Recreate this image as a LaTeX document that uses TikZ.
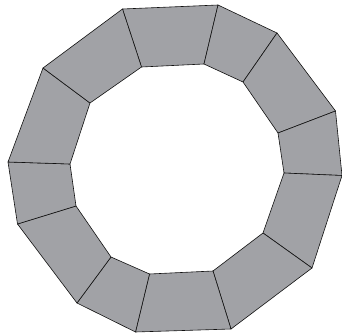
\documentclass[tikz,border=0pt]{standalone}
\usepackage{tikz}
\usetikzlibrary{calc}
\definecolor{segfill}{HTML}{A1A2A6}
\definecolor{ink}{HTML}{111111}

\begin{document}
\begin{tikzpicture}[
  x=1pt,y=-1pt,
  segment/.style={draw=ink,fill=segfill,line width=0.6pt,line join=round}
]
\useasboundingbox (0,0) rectangle (342,334);
% outer corners
\foreach \n/\p in {1/{122.5,9},2/{218,5},3/{277,33},4/{335.5,111},5/{342,175.5},6/{312,268},
                   7/{231,329},8/{135.5,332},9/{77,303},10/{17.5,224},11/{8,162},12/{43,68}}
  \coordinate (o\n) at (\p);
% inner corners
\foreach \n/\p in {1/{141.5,67},2/{204,64},3/{243,82},4/{278,133},5/{284,173},6/{263,233},
                   7/{213,271},8/{149.5,274},9/{111,257},10/{76,206},11/{70,164},12/{90,103}}
  \coordinate (i\n) at (\p);
% ring segments
\foreach \a/\b in {1/2,2/3,3/4,4/5,5/6,6/7,7/8,8/9,9/10,10/11,11/12,12/1}
  \draw[segment] (o\a) -- (o\b) -- (i\b) -- (i\a) -- cycle;
\end{tikzpicture}
\end{document}
